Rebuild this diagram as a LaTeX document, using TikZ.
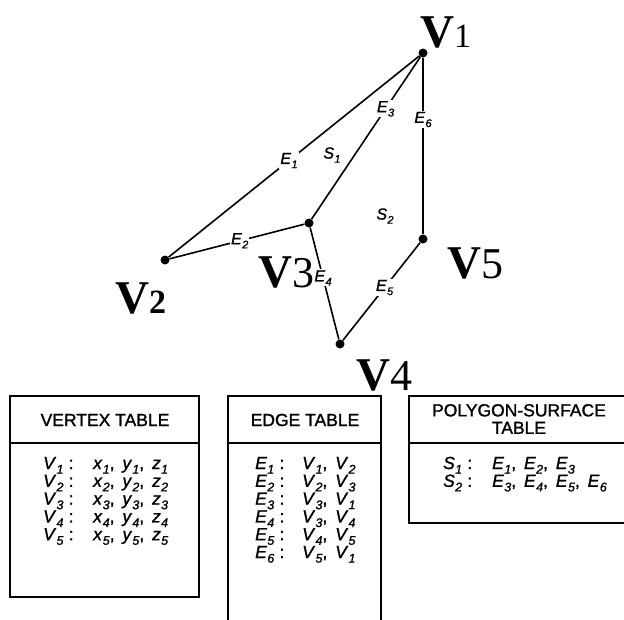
\documentclass[tikz,border=0pt]{standalone}
\usepackage{fontspec}
\setmainfont{Liberation Serif}
\setsansfont{Liberation Sans}
\newfontfamily\medsans[FakeBold=1.3]{Liberation Sans}
\newcommand\dsb[2]{\textit{#1}\kern0.3pt\raisebox{-0.26em}{\fontsize{11pt}{11pt}\selectfont\textit{#2}}}
\newcommand\tsb[2]{\textit{#1}\kern0.3pt\raisebox{-0.26em}{\fontsize{12.5pt}{12.5pt}\selectfont\textit{#2}}}
\newcommand\sep{,\hspace{0.45em}}
\newcommand\col{\hspace{0.3em}:}
\begin{document}
\begin{tikzpicture}[x=1pt,y=-1pt,
  vdot/.style={circle,fill=black,inner sep=0pt,minimum size=9pt},
  edgeline/.style={line width=1.6pt},
  elab/.style={fill=white,inner sep=1pt,font=\fontsize{16}{17}\selectfont\medsans},
  slab/.style={inner sep=1pt,font=\fontsize{16}{17}\selectfont\medsans},
  vlab/.style={anchor=base west,inner sep=0pt,font=\fontsize{47}{48}\selectfont},
  tbox/.style={line width=1.8pt},
  hdr/.style={font=\fontsize{17.5}{19}\selectfont\medsans,align=center,inner sep=0pt},
  rowtxt/.style={anchor=base west,inner sep=0pt,font=\fontsize{17.5}{18}\selectfont\medsans}]
\useasboundingbox (0,0) rectangle (624,619);
\clip (0,0) rectangle (624,619);
% vertices
\node[vdot] (v1) at (423,53) {};
\node[vdot] (v2) at (165,260) {};
\node[vdot] (v3) at (309,223) {};
\node[vdot] (v4) at (340,344) {};
\node[vdot] (v5) at (423,239) {};
% edges
\draw[edgeline] (v1) -- node[elab,pos=.52] (e1) {\dsb{E}{1}} (v2);
\draw[edgeline] (v2) -- node[elab,pos=.52] (e2) {\dsb{E}{2}} (v3);
\draw[edgeline] (v3) -- node[elab,pos=.68] (e3) {\dsb{E}{3}} (v1);
\draw[edgeline] (v3) -- node[elab,pos=.45] (e4) {\dsb{E}{4}} (v4);
\draw[edgeline] (v4) -- node[elab,pos=.54] (e5) {\dsb{E}{5}} (v5);
\draw[edgeline] (v1) -- node[elab,pos=.35] (e6) {\dsb{E}{6}} (v5);
\node[slab] (s1) at (332,155) {\dsb{S}{1}};
\node[slab] (s2) at (385,216) {\dsb{S}{2}};
% vertex labels
\node[vlab] (l1) at (420,47) {\textbf{V}{\fontsize{34}{34}\selectfont 1}};
\node[vlab] (l2) at (115,313) {\textbf{V}{\fontsize{34}{34}\selectfont\bfseries 2}};
\node[vlab] (l3) at (258,287) {\textbf{V}{\fontsize{44}{44}\selectfont 3}};
\node[vlab] (l4) at (356,390) {\textbf{V}{\fontsize{44}{44}\selectfont 4}};
\node[vlab] (l5) at (447,278) {\textbf{V}{\fontsize{44}{44}\selectfont 5}};
% tables
\draw[tbox] (10,396) rectangle (199,597);
\draw[tbox] (10,443) -- (199,443);
\draw[tbox] (228,396) rectangle (381,630);
\draw[tbox] (228,443) -- (381,443);
\draw[tbox] (409,396) rectangle (640,523);
\draw[tbox] (409,443) -- (640,443);
\node[hdr] (h1) at (105,420) {VERTEX TABLE};
\node[hdr] (h2) at (305,420) {EDGE TABLE};
\node[hdr] (h3) at (519,419) {POLYGON-SURFACE\\[-1.5pt]TABLE};
\foreach \i in {1,...,5}{
  \pgfmathsetmacro\yy{469+(\i-1)*17.8}
  \node[rowtxt] (vl\i) at (43,\yy) {\tsb{V}{\i}\col};
  \node[rowtxt] (vr\i) at (93,\yy) {\tsb{x}{\i}\sep\tsb{y}{\i}\sep\tsb{z}{\i}};
}
\foreach \i/\a/\b in {1/1/2,2/2/3,3/3/1,4/3/4,5/4/5,6/5/1}{
  \pgfmathsetmacro\yy{469+(\i-1)*17.8}
  \node[rowtxt] (el\i) at (255,\yy) {\tsb{E}{\i}\col};
  \node[rowtxt] (er\i) at (302,\yy) {\tsb{V}{\a}\sep\tsb{V}{\b}};
}
\node[rowtxt] (pl1) at (443,469) {\tsb{S}{1}\col};
\node[rowtxt] (pr1) at (492,469) {\tsb{E}{1}\sep\tsb{E}{2}\sep\tsb{E}{3}};
\node[rowtxt] (pl2) at (443,486.8) {\tsb{S}{2}\col};
\node[rowtxt] (pr2) at (492,486.8) {\tsb{E}{3}\sep\tsb{E}{4}\sep\tsb{E}{5}\sep\tsb{E}{6}};
\end{tikzpicture}
\end{document}
